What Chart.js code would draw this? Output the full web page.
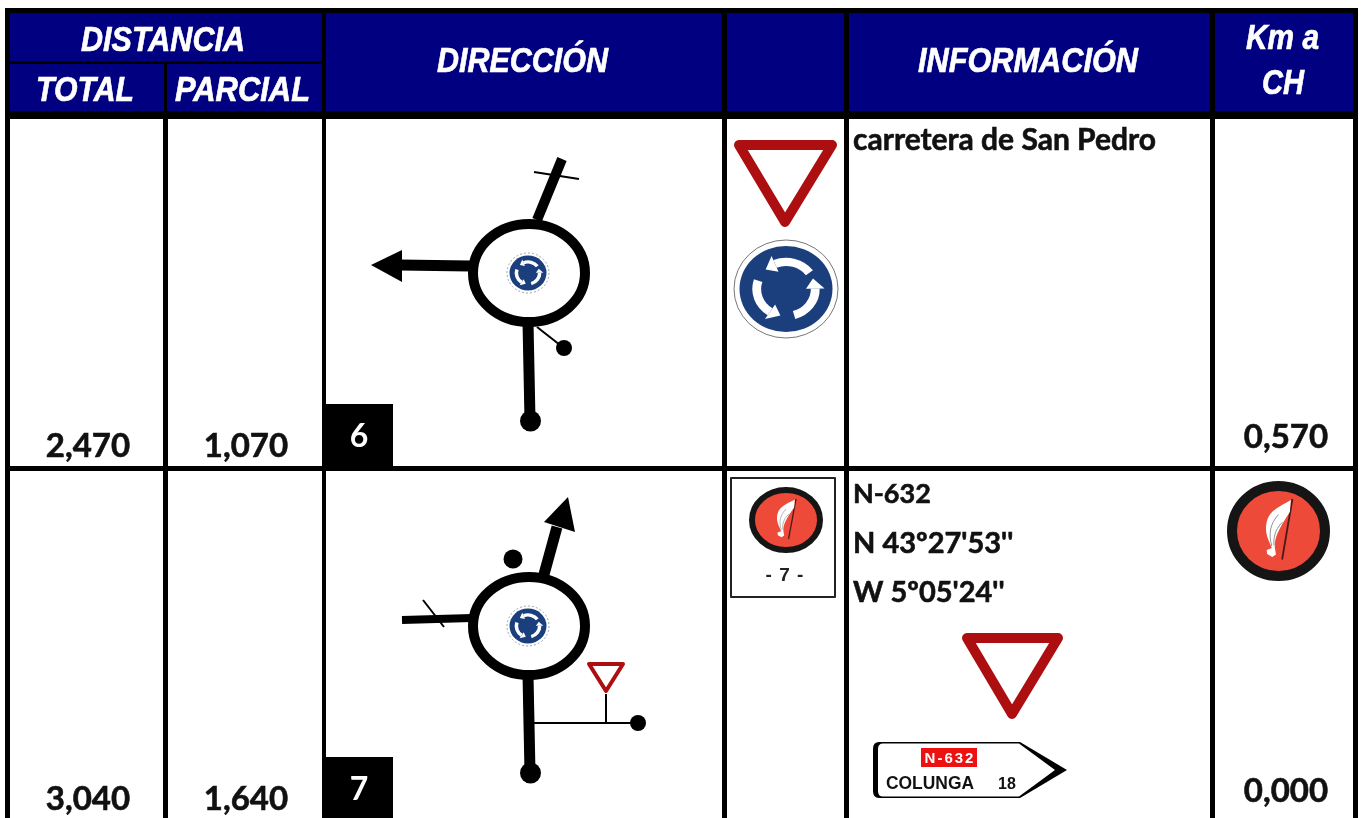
<!DOCTYPE html>
<html>
<head>
<meta charset="utf-8">
<title>Roadbook</title>
<style>
  html, body { margin: 0; padding: 0; background: #fff; }
  canvas { display: block; }
</style>
<script src="https://cdn.jsdelivr.net/npm/chart.js@4/dist/chart.umd.js"></script>
</head>
<body>
<canvas id="roadbook" width="1363" height="818"></canvas>
<script>
// values read from the sheet
const stepNumbers = ['6', '7'];
const totalKm = [2.470, 3.040];
const partialKm = [1.070, 1.640];
const kmToCH = [0.570, 0.000];
const infoFirst = ['carretera de San Pedro'];
const infoSecond = ['N-632', "N 43º27'53''", "W 5º05'24''"];
const routeNumber = 'N-632';
const routeTown = 'COLUNGA';
const routeDistance = '18';
const flagCaption = '- 7 -';

const NAVY = '#000080';
const RED = '#ad0e10';
const SIGN_BLUE = '#1b3f7d';
const FLAG_RED = '#ee4a3a';
const BODY_FONT = 'Lato';
const HEAD_FONT = '"Liberation Sans"';

const km = v => v.toFixed(3).replace('.', ',');

// sheet layout
const rowTops = [119, 471];
const rowBottoms = [466, 818];

// road diagrams, one dataset per stroke
function stroke(points, width) {
  return {
    data: points.map(p => ({ x: p[0], y: p[1] })),
    showLine: true, borderColor: '#000', borderWidth: width, pointRadius: 0, borderCapStyle: 'butt'
  };
}
function arrowHead(points) {
  return {
    data: points.map(p => ({ x: p[0], y: p[1] })),
    showLine: true, fill: 'shape', backgroundColor: '#000', borderColor: '#000', borderWidth: 0, pointRadius: 0
  };
}
function dot(x, y, r) {
  return {
    data: [{ x, y }], showLine: false, pointRadius: r, pointBackgroundColor: '#000', pointBorderWidth: 0
  };
}

const datasets = [
  // step 6
  stroke([[470, 266], [400, 265]], 11),
  arrowHead([[371, 265], [402, 250], [402, 282], [371, 265]]),
  stroke([[537, 220], [562, 159]], 10),
  stroke([[534, 172], [579, 179]], 2),
  stroke([[528, 322], [530, 420]], 11),
  stroke([[537, 327], [560, 345]], 2),
  dot(530.5, 421, 10.5),
  dot(564, 348, 8),
  // step 7
  stroke([[543, 578], [557, 527]], 11),
  arrowHead([[568, 497], [544, 522], [575, 532], [568, 497]]),
  stroke([[402, 620], [472, 618]], 8),
  stroke([[423, 600], [444, 627]], 2),
  stroke([[528, 675], [530, 773]], 11),
  stroke([[534, 723], [638, 723]], 2),
  stroke([[606, 694], [606, 723]], 2),
  dot(530.5, 773, 10.5),
  dot(638, 723, 8),
  dot(513, 559, 9.5)
];

// sheet background and rules go under the diagrams
const sheetPlugin = {
  id: 'sheet',
  beforeDatasetsDraw(chart) {
    const ctx = chart.ctx;
    const X = v => chart.scales.x.getPixelForValue(v);
    const Y = v => chart.scales.y.getPixelForValue(v);
    const box = (x1, y1, x2, y2, color) => {
      ctx.fillStyle = color;
      ctx.fillRect(X(x1), Y(y1), X(x2) - X(x1), Y(y2) - Y(y1));
    };
    ctx.save();
    box(5, 8, 1358, 818, '#000');
    // header cells
    box(10, 13, 322, 61, NAVY);
    box(10, 64, 164, 111, NAVY);
    box(167, 64, 322, 111, NAVY);
    box(326, 13, 722, 111, NAVY);
    box(727, 13, 844, 111, NAVY);
    box(849, 13, 1210, 111, NAVY);
    box(1215, 13, 1353, 111, NAVY);
    // body cells
    const bodyCols = [[10, 163], [168, 322], [326, 722], [727, 844], [849, 1210], [1215, 1353]];
    rowTops.forEach((top, r) => {
      bodyCols.forEach(c => box(c[0], top, c[1], rowBottoms[r], '#fff'));
    });
    ctx.restore();
  }
};

function headText(ctx, text, left, right, base, size) {
  ctx.font = 'italic bold ' + size + 'px ' + HEAD_FONT;
  ctx.fillStyle = '#fff';
  ctx.strokeStyle = '#fff';
  ctx.lineWidth = 0.7;
  ctx.textAlign = 'center';
  ctx.textBaseline = 'alphabetic';
  ctx.fillText(text, (left + right) / 2, base, right - left);
  ctx.strokeText(text, (left + right) / 2, base, right - left);
}

function bodyText(ctx, text, x, base, size, align, maxWidth) {
  ctx.font = 'bold ' + size + 'px ' + BODY_FONT;
  ctx.fillStyle = '#111';
  ctx.strokeStyle = '#111';
  ctx.lineWidth = 0.6;
  ctx.textAlign = align;
  ctx.textBaseline = 'alphabetic';
  ctx.fillText(text, x, base, maxWidth);
  ctx.strokeText(text, x, base, maxWidth);
}

function yieldSign(ctx, pts, width) {
  ctx.beginPath();
  ctx.moveTo(pts[0][0], pts[0][1]);
  ctx.lineTo(pts[1][0], pts[1][1]);
  ctx.lineTo(pts[2][0], pts[2][1]);
  ctx.closePath();
  ctx.lineJoin = 'round';
  ctx.strokeStyle = RED;
  ctx.lineWidth = width;
  ctx.stroke();
}

function roundaboutSign(ctx, cx, cy, rx, ry) {
  ctx.fillStyle = SIGN_BLUE;
  ctx.beginPath();
  ctx.ellipse(cx, cy, rx, ry, 0, 0, Math.PI * 2);
  ctx.fill();
  ctx.save();
  ctx.translate(cx, cy);
  ctx.scale(rx, ry);
  const ring = 0.63;
  [-37, -162, 74].forEach(start => {
    const a = start * Math.PI / 180;
    const b = a - 75 * Math.PI / 180;
    const tip = b - 22 * Math.PI / 180;
    ctx.strokeStyle = '#fff';
    ctx.lineWidth = 0.19;
    ctx.beginPath();
    ctx.arc(0, 0, ring, a, b, true);
    ctx.stroke();
    ctx.fillStyle = '#fff';
    ctx.beginPath();
    ctx.moveTo(Math.cos(b) * (ring + 0.2), Math.sin(b) * (ring + 0.2));
    ctx.lineTo(Math.cos(b) * (ring - 0.2), Math.sin(b) * (ring - 0.2));
    ctx.lineTo(Math.cos(tip) * ring, Math.sin(tip) * ring);
    ctx.closePath();
    ctx.fill();
  });
  ctx.restore();
}

function flagSign(ctx, cx, cy, rx, ry, border) {
  ctx.beginPath();
  ctx.ellipse(cx, cy, rx - border / 2, ry - border / 2, 0, 0, Math.PI * 2);
  ctx.fillStyle = FLAG_RED;
  ctx.fill();
  ctx.strokeStyle = '#151515';
  ctx.lineWidth = border;
  ctx.stroke();
  ctx.save();
  ctx.translate(cx, cy);
  ctx.scale(rx, ry);
  ctx.strokeStyle = '#4a1a1a';
  ctx.lineWidth = 0.035;
  ctx.beginPath();
  ctx.moveTo(0.27, -0.64);
  ctx.lineTo(0.07, 0.57);
  ctx.stroke();
  ctx.fillStyle = '#fff';
  ctx.beginPath();
  ctx.moveTo(0.24, -0.62);
  ctx.bezierCurveTo(0.05, -0.5, -0.18, -0.42, -0.23, -0.18);
  ctx.bezierCurveTo(-0.28, 0.05, -0.18, 0.2, -0.13, 0.34);
  ctx.lineTo(-0.23, 0.38);
  ctx.lineTo(-0.22, 0.46);
  ctx.lineTo(-0.12, 0.52);
  ctx.lineTo(-0.05, 0.47);
  ctx.lineTo(-0.07, 0.34);
  ctx.bezierCurveTo(-0.08, 0.15, -0.02, 0.0, 0.22, -0.38);
  ctx.closePath();
  ctx.fill();
  ctx.strokeStyle = '#8a8a8a';
  ctx.lineWidth = 0.018;
  ctx.beginPath();
  ctx.moveTo(-0.13, 0.3);
  ctx.bezierCurveTo(-0.2, 0.05, -0.16, -0.15, 0, -0.33);
  ctx.moveTo(-0.09, 0.28);
  ctx.bezierCurveTo(-0.1, 0.05, -0.02, -0.08, 0.08, -0.18);
  ctx.stroke();
  ctx.restore();
}

function routeSign(ctx) {
  // black shadow edge then the white plate
  ctx.fillStyle = '#000';
  ctx.beginPath();
  ctx.moveTo(879, 742);
  ctx.lineTo(1020, 742);
  ctx.lineTo(1067, 770);
  ctx.lineTo(1020, 798);
  ctx.lineTo(879, 798);
  ctx.quadraticCurveTo(873, 798, 873, 791);
  ctx.lineTo(873, 749);
  ctx.quadraticCurveTo(873, 742, 879, 742);
  ctx.fill();
  ctx.fillStyle = '#fff';
  ctx.beginPath();
  ctx.moveTo(883, 743.5);
  ctx.lineTo(1019, 743.5);
  ctx.lineTo(1055, 770);
  ctx.lineTo(1019, 796.5);
  ctx.lineTo(883, 796.5);
  ctx.quadraticCurveTo(878, 796.5, 878, 791);
  ctx.lineTo(878, 749);
  ctx.quadraticCurveTo(878, 743.5, 883, 743.5);
  ctx.fill();
  ctx.fillStyle = '#ee1111';
  ctx.fillRect(921, 748, 56, 19);
  ctx.textBaseline = 'alphabetic';
  ctx.textAlign = 'center';
  ctx.fillStyle = '#fff';
  ctx.font = 'bold 15px ' + HEAD_FONT;
  ctx.letterSpacing = '2px';
  ctx.fillText(routeNumber, 950, 763);
  ctx.letterSpacing = '0px';
  ctx.fillStyle = '#111';
  ctx.font = 'bold 17.5px ' + HEAD_FONT;
  ctx.fillText(routeTown, 930, 789, 88);
  ctx.font = 'bold 16px ' + HEAD_FONT;
  ctx.fillText(routeDistance, 1007, 789);
}

function circleOfRoad(ctx, cx, cy) {
  ctx.beginPath();
  ctx.ellipse(cx, cy, 56, 49, 0, 0, Math.PI * 2);
  ctx.fillStyle = '#fff';
  ctx.fill();
  ctx.strokeStyle = '#000';
  ctx.lineWidth = 10;
  ctx.stroke();
  ctx.save();
  ctx.setLineDash([2, 2]);
  ctx.strokeStyle = '#9aa3b5';
  ctx.lineWidth = 1;
  ctx.beginPath();
  ctx.ellipse(cx - 1, cy, 21, 20, 0, 0, Math.PI * 2);
  ctx.stroke();
  ctx.restore();
  roundaboutSign(ctx, cx - 1, cy, 18.5, 17.5);
}

// signs and all text go over the diagrams
const signsPlugin = {
  id: 'signs',
  afterDatasetsDraw(chart) {
    const ctx = chart.ctx;
    ctx.save();

    headText(ctx, 'DISTANCIA', 81, 245, 51, 35);
    headText(ctx, 'TOTAL', 36, 134, 101, 35);
    headText(ctx, 'PARCIAL', 175, 310, 101, 35);
    headText(ctx, 'DIRECCIÓN', 437, 608, 72, 35);
    headText(ctx, 'INFORMACIÓN', 918, 1138, 72, 35);
    headText(ctx, 'Km a', 1246, 1319, 49, 35);
    headText(ctx, 'CH', 1262, 1304, 94, 35);

    // number boxes and row values
    const boxTops = [404, 757];
    const totalBase = [457, 810];
    const sideBase = [448, 802];
    stepNumbers.forEach((n, r) => {
      ctx.fillStyle = '#000';
      ctx.fillRect(326, boxTops[r], 67, rowBottoms[r] - boxTops[r]);
      ctx.fillStyle = '#fff';
      ctx.font = 'bold 32px ' + BODY_FONT;
      ctx.textAlign = 'center';
      ctx.textBaseline = 'alphabetic';
      ctx.fillText(n, 359, boxTops[r] + 43);
      bodyText(ctx, km(totalKm[r]), 88, totalBase[r], 33, 'center');
      bodyText(ctx, km(partialKm[r]), 246, totalBase[r], 33, 'center');
      bodyText(ctx, km(kmToCH[r]), 1286, sideBase[r], 33, 'center');
    });

    bodyText(ctx, infoFirst[0], 853, 150, 30, 'left');
    const infoBase = [503, 553, 602];
    const infoSize = [27, 29, 29];
    infoSecond.forEach((t, i) => bodyText(ctx, t, 853, infoBase[i], infoSize[i], 'left'));

    // roundabouts
    circleOfRoad(ctx, 529, 273);
    circleOfRoad(ctx, 529, 626);

    // signs in the sign column
    yieldSign(ctx, [[739, 145], [832, 145], [785, 222]], 10);
    ctx.beginPath();
    ctx.ellipse(786, 289, 52, 49, 0, 0, Math.PI * 2);
    ctx.strokeStyle = '#777';
    ctx.lineWidth = 1;
    ctx.stroke();
    roundaboutSign(ctx, 786, 289, 46.5, 43);

    ctx.strokeStyle = '#222';
    ctx.lineWidth = 2;
    ctx.strokeRect(731, 478, 104, 119);
    flagSign(ctx, 786, 520, 37, 33, 6);
    ctx.fillStyle = '#222';
    ctx.font = 'bold 19px ' + HEAD_FONT;
    ctx.letterSpacing = '1px';
    ctx.textAlign = 'center';
    ctx.fillText(flagCaption, 785, 581);
    ctx.letterSpacing = '0px';

    // info column
    yieldSign(ctx, [[967, 638], [1058, 638], [1012, 714]], 10);
    routeSign(ctx);
    yieldSign(ctx, [[589, 664], [623, 664], [606, 691]], 4);

    // km column
    flagSign(ctx, 1278.5, 531, 51.5, 50, 10);

    ctx.restore();
  }
};

new Chart(document.getElementById('roadbook'), {
  type: 'scatter',
  data: { datasets },
  plugins: [sheetPlugin, signsPlugin],
  options: {
    responsive: false,
    animation: false,
    layout: { padding: 0, autoPadding: false },
    clip: false,
    plugins: { legend: { display: false }, tooltip: { enabled: false } },
    scales: {
      x: { type: 'linear', min: 0, max: 1363, display: false },
      y: { type: 'linear', min: 0, max: 818, reverse: true, display: false }
    }
  }
});
</script>
</body>
</html>
